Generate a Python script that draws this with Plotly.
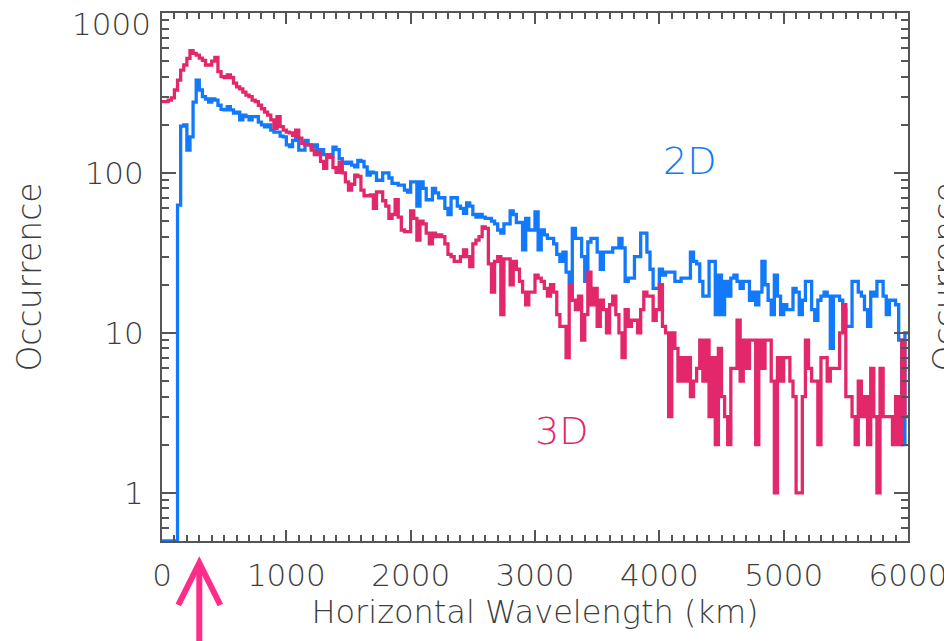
import numpy as np
import plotly.graph_objects as go

# ---------------- data ----------------
BIN_WIDTH_KM = 25
X_MAX_KM = 6000

# 3D occurrence per 25 km bin (0 .. 6000 km)
occ_3d = [
    279, 279, 285, 295, 330, 380, 440, 473, 520, 581,
    560, 545, 523, 505, 473, 473, 500, 527, 430, 400,
    395, 410, 395, 364, 345, 335, 320, 307, 300, 285,
    279, 265, 252, 240, 230, 215, 190, 225, 195, 185,
    180, 178, 172, 185, 165, 153, 150, 150, 139, 130,
    135, 118, 107, 130, 125, 108, 101, 117, 100, 88,
    78, 85, 97, 95, 78, 72, 72, 73, 60, 76,
    76, 67, 62, 52, 55, 68, 53, 44, 43, 43,
    58, 52, 38, 50, 48, 42, 36, 42, 40, 41,
    40, 36, 31, 30, 28, 28, 30, 33, 30, 26,
    36, 38, 40, 46, 45, 27, 18, 28, 30, 13,
    29, 29, 20, 28, 25, 21, 18, 15, 18, 18,
    23, 22, 21, 19, 17, 20, 18, 13, 11, 11,
    7, 20, 16, 14, 17, 9, 13, 24, 15, 19,
    11, 16, 14, 10, 15, 17, 13, 10, 7, 14,
    11, 12, 12, 10, 14, 18, 17, 17, 12, 14,
    20, 11, 10, 3, 10, 8, 5, 7, 5, 7,
    4, 5, 6, 9, 5, 9, 3, 7, 2, 8,
    4, 3, 2, 6, 6, 12, 5, 9, 6, 9,
    9, 2, 9, 6, 9, 9, 5, 1, 7, 5,
    7, 7, 5, 4, 1, 1, 4, 9, 6, 5,
    5, 2, 7, 7, 5, 6, 6, 6, 10, 15,
    4, 4, 3, 2, 5, 3, 4, 2, 6, 3,
    1, 6, 3, 3, 3, 2, 4, 2, 9, 3,
]

# 2D occurrence per 25 km bin (0 .. 6000 km)
occ_2d = [
    0, 0, 0, 0, 0, 63, 196, 200, 139, 168,
    277, 380, 330, 300, 290, 277, 290, 285, 265, 250,
    248, 260, 248, 237, 240, 215, 230, 225, 215, 225,
    225, 208, 200, 194, 200, 185, 180, 180, 170, 168,
    150, 146, 160, 165, 139, 139, 160, 150, 145, 150,
    133, 140, 130, 130, 128, 145, 140, 123, 117, 115,
    117, 112, 109, 120, 118, 109, 97, 101, 100, 90,
    90, 100, 100, 93, 86, 86, 84, 84, 78, 76,
    88, 88, 62, 88, 80, 68, 68, 80, 75, 70,
    70, 60, 55, 70, 70, 62, 60, 56, 65, 62,
    55, 53, 55, 53, 52, 52, 50, 48, 44, 42,
    48, 48, 58, 55, 49, 49, 33, 52, 44, 44,
    57, 33, 44, 41, 39, 39, 36, 31, 28, 32,
    24, 21, 45, 39, 39, 30, 21, 37, 39, 39,
    32, 25, 32, 32, 32, 34, 34, 39, 34, 21,
    22, 22, 30, 30, 42, 42, 32, 25, 19, 19,
    25, 23, 24, 24, 24, 21, 21, 22, 22, 22,
    32, 28, 27, 21, 17, 17, 28, 28, 13, 23,
    13, 21, 17, 22, 23, 21, 19, 21, 21, 16,
    18, 15, 18, 28, 20, 16, 13, 23, 17, 13,
    15, 14, 14, 19, 18, 13, 16, 21, 21, 14,
    12, 16, 17, 18, 17, 8, 17, 17, 16, 14,
    11, 11, 21, 21, 18, 17, 14, 11, 18, 17,
    21, 21, 17, 13, 16, 16, 15, 9, 2, 10,
]

x_tick_vals = [0, 1000, 2000, 3000, 4000, 5000, 6000]
x_tick_text = ["0", "1000", "2000", "3000", "4000", "5000", "6000"]
y_tick_vals = [1, 10, 100, 1000]
y_tick_text = ["1", "10", "100", ""]      # "1000" drawn as annotation (sits lower)
Y_MIN, Y_MAX = 0.5, 1000

label_2d = dict(text="2D", km=4240, occ=118)
label_3d = dict(text="3D", km=3215, occ=2.45)
ARROW_KM = 300

# ---------------- styling ----------------
BLUE = "#1279fb"
RED = "#e2286a"
PINK = "#ff2d87"
AXIS = "#555555"
TEXT = "#3d3d3d"
FONT = "DejaVu Sans"
WEIGHT = 200


def step_xy(values):
    edges = np.arange(len(values) + 1) * BIN_WIDTH_KM
    vals = np.asarray(values, dtype=float)
    vals = np.where(vals > 0, vals, Y_MIN)        # empty bins drawn on the floor
    return edges, np.append(vals, vals[-1])


def fnt(size, color=TEXT):
    return dict(family=FONT, size=size, color=color, weight=WEIGHT)


fig = go.Figure()
for vals, col in ((occ_2d, BLUE), (occ_3d, RED)):
    xs, ys = step_xy(vals)
    fig.add_trace(go.Scatter(x=xs, y=ys, mode="lines",
                             line=dict(shape="hv", width=3.3, color=col),
                             hoverinfo="skip"))

minor_y = [m * 10 ** e for e in range(-1, 3) for m in range(2, 10) if Y_MIN < m * 10 ** e < Y_MAX]

fig.update_xaxes(
    range=[0, X_MAX_KM], tickmode="array", tickvals=x_tick_vals, ticktext=x_tick_text,
    ticks="inside", ticklen=11, tickwidth=1.5, tickcolor=AXIS,
    showline=True, linecolor=AXIS, linewidth=2, mirror="allticks",
    showgrid=False, zeroline=False,
    minor=dict(dtick=100, ticks="inside", ticklen=6, tickwidth=1.5, tickcolor=AXIS, showgrid=False),
    tickfont=fnt(31), ticklabelstandoff=6,
    title=dict(text="Horizontal Wavelength (km)", font=fnt(32), standoff=0),
    automargin=False,
)
fig.update_yaxes(
    type="log", range=[np.log10(Y_MIN), np.log10(Y_MAX)],
    tickmode="array", tickvals=y_tick_vals, ticktext=y_tick_text,
    ticks="inside", ticklen=14, tickwidth=1.5, tickcolor=AXIS,
    showline=True, linecolor=AXIS, linewidth=2, mirror="allticks",
    showgrid=False, zeroline=False,
    minor=dict(tickmode="array", tickvals=minor_y, ticks="inside", ticklen=7, tickwidth=1.5,
               tickcolor=AXIS, showgrid=False),
    tickfont=fnt(31), ticklabelstandoff=10,
    title=dict(text="Occurrence", font=fnt(33), standoff=33),
    automargin=False,
)

annotations = [
    dict(x=0, xref="paper", y=np.log10(1000), yref="y", text="1000", showarrow=False,
         xanchor="right", yanchor="middle", xshift=-10, yshift=-11, borderpad=0,
         font=fnt(31)),
    dict(x=label_2d["km"], y=np.log10(label_2d["occ"]), xref="x", yref="y", text=label_2d["text"],
         showarrow=False, font=fnt(38, BLUE)),
    dict(x=label_3d["km"], y=np.log10(label_3d["occ"]), xref="x", yref="y", text=label_3d["text"],
         showarrow=False, font=fnt(38, RED)),
    # y title of the neighbouring panel, cut by the right edge
    dict(x=1.049, xref="paper", y=0.5, yref="paper", text="Occurrence", textangle=-90,
         showarrow=False, xanchor="center", yanchor="middle", font=fnt(33)),
]

shapes = [
    dict(type="line", xref="x", xsizemode="pixel", xanchor=ARROW_KM, x0=0, x1=0,
         yref="paper", ysizemode="pixel", yanchor=0, y0=-23, y1=-120,
         line=dict(color=PINK, width=6), layer="above"),
    dict(type="path", xref="x", xsizemode="pixel", xanchor=ARROW_KM,
         yref="paper", ysizemode="pixel", yanchor=0,
         path="M -21,-64 L 0,-22 L 21,-64",
         line=dict(color=PINK, width=6), layer="above"),
]

# the page body has an 8 px margin: figure starts at (8, 8) of the window
fig.update_layout(
    width=944, height=633,
    margin=dict(l=154, r=44, t=5, b=100),
    paper_bgcolor="white", plot_bgcolor="white",
    showlegend=False,
    font=dict(family=FONT, color=TEXT),
    annotations=annotations,
    shapes=shapes,
)

fig.write_html("out.html")
